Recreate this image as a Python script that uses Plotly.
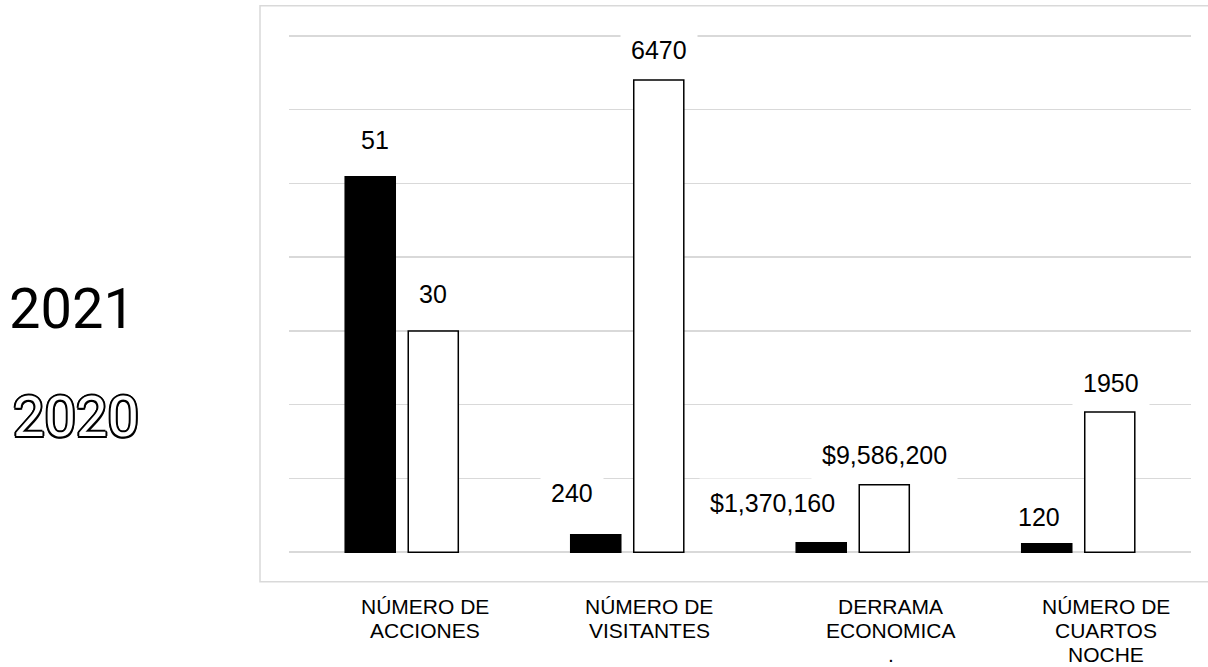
import plotly.graph_objects as go

# ---------------- data ----------------
categories = ["NÚMERO DE ACCIONES", "NÚMERO DE VISITANTES", "DERRAMA ECONOMICA", "NÚMERO DE CUARTOS NOCHE"]
category_lines = [
    ["NÚMERO DE", "ACCIONES"],
    ["NÚMERO DE", "VISITANTES"],
    ["DERRAMA", "ECONOMICA", "."],
    ["NÚMERO DE", "CUARTOS", "NOCHE"],
]
series_names = ["2021", "2020"]
# bar heights as drawn in the chart (one gridline step = 1 unit)
heights_2021 = [5.09, 0.237, 0.13, 0.115]
heights_2020 = [3.0, 6.40, 0.915, 1.90]
# data-label texts
labels_2021 = ["51", "240", "$1,370,160", "120"]
labels_2020 = ["30", "6470", "$9,586,200", "1950"]

# ---------------- layout constants ----------------
W, H = 1208, 667
L, R = 289, 1191          # plot area x extent (px)
Y_TOP_PX, Y_BOT_PX = 21.25, 567.25
PLOT_H = Y_BOT_PX - Y_TOP_PX
PLOT_W = R - L


def py(p):  # pixel y -> paper y
    return (Y_BOT_PX - p) / PLOT_H


def px(p):  # pixel x -> paper x
    return (p - L) / PLOT_W


GRID = "#d9d9d9"
LABEL_FONT = dict(family="Liberation Sans, Arial, sans-serif", size=25, color="#000000")
CAT_FONT = dict(family="Liberation Sans, Arial, sans-serif", size=21, color="#000000")

fig = go.Figure()
fig.add_trace(go.Bar(
    name=series_names[0], x=categories, y=heights_2021,
    marker=dict(color="#000000", line=dict(color="#000000", width=1.5)),
    hoverinfo="skip",
))
fig.add_trace(go.Bar(
    name=series_names[1], x=categories, y=heights_2020,
    marker=dict(color="#ffffff", line=dict(color="#000000", width=1.5)),
    hoverinfo="skip",
))

annotations = []
# data labels (label offsets relative to bar centre/top, in px)
offsets_2021 = [(5, 37), (-24, 42), (-49, 40), (-8, 27)]
offsets_2020 = [(0, 37), (0, 30), (0, 30), (1, 29)]
for side, heights, labels, offs in [(-31.5, heights_2021, labels_2021, offsets_2021),
                                    (31.5, heights_2020, labels_2020, offsets_2020)]:
    for cat, h, lab, (dx, dy) in zip(categories, heights, labels, offs):
        annotations.append(dict(
            x=cat, y=h, xref="x", yref="y", text=lab, showarrow=False,
            xshift=side + dx, yshift=dy, xanchor="center", yanchor="middle",
            font=LABEL_FONT, bgcolor="#ffffff", borderpad=10,
        ))

# category labels below the frame
cat_xshift = [23, 22, 38, 28]
line_y = [607, 631, 655]
for cat, lines, xs in zip(categories, category_lines, cat_xshift):
    for k, ln in enumerate(lines):
        annotations.append(dict(
            x=cat, y=py(line_y[k]), xref="x", yref="paper", text=ln, showarrow=False,
            xshift=xs, xanchor="center", yanchor="middle", font=CAT_FONT,
        ))

# series names on the left, acting as legend
outline = ("2px 0 0 #000, -2px 0 0 #000, 0 2px 0 #000, 0 -2px 0 #000, "
           "1.5px 1.5px 0 #000, -1.5px -1.5px 0 #000, 1.5px -1.5px 0 #000, -1.5px 1.5px 0 #000")
annotations.append(dict(
    x=px(72), y=py(309), xref="paper", yref="paper", text=series_names[0], showarrow=False,
    xanchor="center", yanchor="middle",
    font=dict(family="Roboto, sans-serif", size=56, color="#000000"),
))
annotations.append(dict(
    x=px(76), y=py(417), xref="paper", yref="paper", text=series_names[1], showarrow=False,
    xanchor="center", yanchor="middle",
    font=dict(family="Roboto, sans-serif", size=56, color="#ffffff", shadow=outline),
))

fig.update_layout(
    width=W, height=H,
    margin=dict(l=L, r=W - R, t=Y_TOP_PX, b=H - Y_BOT_PX, pad=0),
    paper_bgcolor="#ffffff", plot_bgcolor="#ffffff",
    barmode="group", bargap=0.441, bargroupgap=0.206,
    showlegend=False,
    annotations=annotations,
    shapes=[dict(
        type="rect", xref="paper", yref="paper",
        x0=px(260), x1=px(1215), y0=py(582), y1=py(6),
        line=dict(color=GRID, width=1.5), fillcolor="rgba(0,0,0,0)", layer="below",
    )],
    xaxis=dict(showticklabels=False, showgrid=False, zeroline=False, showline=False, ticks=""),
    yaxis=dict(range=[-0.2, 7.2], dtick=1, tick0=0, showticklabels=False, showgrid=True,
               gridcolor=GRID, gridwidth=1.5, zeroline=False, showline=False, ticks=""),
)

fig.write_html(
    "out.html",
    config={"displayModeBar": False, "staticPlot": True},
    post_script="document.body.style.margin='0';document.body.style.padding='0';",
)
